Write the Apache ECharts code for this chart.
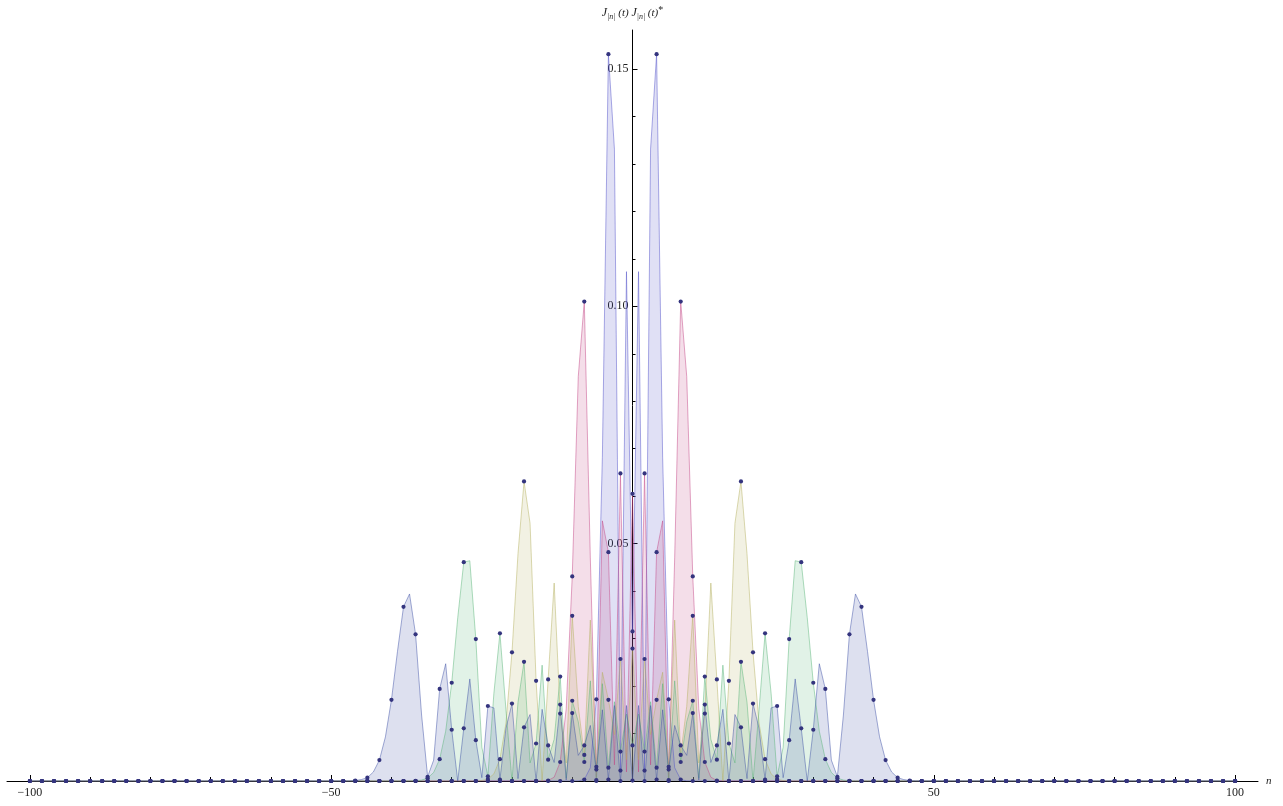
<!DOCTYPE html>
<html>
<head>
<meta charset="utf-8">
<script src="https://cdn.jsdelivr.net/npm/echarts@6/dist/echarts.min.js"></script>
<style>
html,body{margin:0;padding:0;background:#fff;}
#chart{width:1283px;height:806px;}
</style>
</head>
<body>
<div id="chart"></div>
<script>
// J_|n|(t)^2 values for |n| = 0,1,2,...; symmetric in n
const t5  = [0.0315, 0.1073, 0.0022, 0.1331, 0.1531, 0.0682, 0.0172, 0.0028, 0.0003, 0.00003, 0];
const t10 = [0.0605, 0.0019, 0.0648, 0.0034, 0.0482, 0.0548, 0.0002, 0.0470, 0.1010, 0.0852,
             0.0431, 0.0152, 0.0040, 0.0008, 0.0001, 0];
const t20 = [0.0279, 0.0045, 0.0257, 0.0098, 0.0171, 0.0229, 0.0030, 0.0339, 0.0055, 0.0157,
             0.0348, 0.0038, 0.0142, 0.0417, 0.0214, 0.0000, 0.0211, 0.0543, 0.0631, 0.0479,
             0.0271, 0.0122, 0.0046, 0.0015, 0.0004, 0.0001, 0];
const t30 = [0.0075, 0.0141, 0.0062, 0.0167, 0.0028, 0.0205, 0.0000, 0.0211, 0.0040, 0.0125,
             0.0169, 0.0006, 0.0220, 0.0088, 0.0045, 0.0244, 0.0079, 0.0038, 0.0251, 0.0166,
             0.0000, 0.0150, 0.0311, 0.0185, 0.0010, 0.0071, 0.0299, 0.0464, 0.0461, 0.0344,
             0.0207, 0.0105, 0.0046, 0.0018, 0.0006, 0.0002, 0.00005, 0];
const t40 = [0.0001, 0.0159, 0.0000, 0.0159, 0.0003, 0.0150, 0.0024, 0.0117, 0.0075, 0.0054,
             0.0143, 0.0002, 0.0161, 0.0039, 0.0075, 0.0151, 0.0000, 0.0140, 0.0113, 0.0005,
             0.0163, 0.0111, 0.0003, 0.0154, 0.0158, 0.0007, 0.0086, 0.0215, 0.0111, 0.0000,
             0.0108, 0.0247, 0.0194, 0.0044, 0.0009, 0.0139, 0.0309, 0.0394, 0.0367, 0.0273,
             0.0171, 0.0093, 0.0044, 0.0019, 0.0007, 0.0003, 0.0001, 0];

const nFirst = -100, nLast = 100;               // sample range of n
const xMajorTicks = [-100, -50, 50, 100];        // labelled ticks
const xMinorTicks = [-90, -80, -70, -60, -40, -30, -20, -10, 10, 20, 30, 40, 60, 70, 80, 90];
const yMajorTicks = [0.05, 0.10, 0.15];
const yMinorTicks = [0.01, 0.02, 0.03, 0.04, 0.06, 0.07, 0.08, 0.09, 0.11, 0.12, 0.13, 0.14];

const seriesDefs = [
  { name: 't=5',  half: t5,  color: [80, 80, 200] },
  { name: 't=10', half: t10, color: [195, 67, 131] },
  { name: 't=20', half: t20, color: [180, 175, 95] },
  { name: 't=30', half: t30, color: [87, 179, 119] },
  { name: 't=40', half: t40, color: [60, 80, 165] }
];

function rgba(c, a) { return 'rgba(' + c[0] + ',' + c[1] + ',' + c[2] + ',' + a + ')'; }

function buildData(half) {
  const out = [];
  for (let n = nFirst; n <= nLast; n++) {
    const k = Math.abs(n);
    out.push([n, k < half.length ? half[k] : 0]);
  }
  return out;
}

const serif = '"Liberation Serif", "DejaVu Serif", serif';
const chart = echarts.init(document.getElementById('chart'), null, { renderer: 'canvas' });

const X_MIN = -103.8, X_MAX = 103.8, Y_MAX = 0.1582;
const GRID = { left: 7, right: 25, top: 30, bottom: 25 };
const plotW = 1283 - GRID.left - GRID.right;
const zeroX = GRID.left + plotW * (0 - X_MIN) / (X_MAX - X_MIN);

const series = seriesDefs.map(d => ({
  name: d.name,
  type: 'line',
  xAxisIndex: 0,
  yAxisIndex: 0,
  data: buildData(d.half),
  showSymbol: true,
  showAllSymbol: true,
  symbol: 'circle',
  symbolSize: function (val) { return (Math.abs(val[0]) % 2 === 0) ? 4.2 : 0; },
  itemStyle: { color: '#34347e', borderWidth: 0 },
  lineStyle: { color: rgba(d.color, 0.48), width: 1 },
  areaStyle: { color: rgba(d.color, 0.25) },
  silent: true,
  emphasis: { disabled: true },
  animation: false
}));

const option = {
  animation: false,
  grid: [
    { left: GRID.left, right: GRID.right, top: GRID.top, bottom: GRID.bottom, containLabel: false, outerBoundsMode: 'none' },
    { left: zeroX, width: 1, top: GRID.top, bottom: GRID.bottom, containLabel: false, outerBoundsMode: 'none' }
  ],
  xAxis: [
    {
      gridIndex: 0, type: 'value', min: X_MIN, max: X_MAX, position: 'bottom',
      name: 'n', nameLocation: 'end', nameGap: 8,
      nameTextStyle: { fontFamily: serif, fontStyle: 'italic', fontSize: 11, color: '#222' },
      axisLine: { show: true, onZero: false, lineStyle: { color: '#000', width: 1 } },
      axisTick: { show: true, inside: true, length: 6, customValues: xMajorTicks, lineStyle: { color: '#000' } },
      axisLabel: {
        show: true, customValues: xMajorTicks, margin: 6,
        fontFamily: serif, fontSize: 12, color: '#222',
        formatter: v => (v < 0 ? '\u2212' + Math.abs(v) : String(v))
      },
      splitLine: { show: false }
    },
    {
      gridIndex: 0, type: 'value', min: X_MIN, max: X_MAX, position: 'bottom',
      axisLine: { show: false, onZero: false },
      axisTick: { show: true, inside: true, length: 4, customValues: xMinorTicks, lineStyle: { color: '#000' } },
      axisLabel: { show: false },
      splitLine: { show: false }
    },
    {
      gridIndex: 1, type: 'value', min: 0, max: 1, show: false
    }
  ],
  yAxis: [
    {
      gridIndex: 0, type: 'value', min: 0, max: Y_MAX, position: 'left',
      name: '{j|J}{s||n|}{p| (t) }{j|J}{s||n|}{p| (t)}{a|*}',
      nameLocation: 'end', nameGap: 9,
      nameTextStyle: {
        fontFamily: serif, fontSize: 12, color: '#222',
        rich: {
          j: { fontFamily: serif, fontStyle: 'italic', fontSize: 12, lineHeight: 16, verticalAlign: 'middle', color: '#222' },
          s: { fontFamily: serif, fontStyle: 'italic', fontSize: 8, lineHeight: 16, verticalAlign: 'bottom', color: '#222' },
          p: { fontFamily: serif, fontStyle: 'italic', fontSize: 11, lineHeight: 16, verticalAlign: 'middle', color: '#222' },
          a: { fontFamily: serif, fontSize: 10, lineHeight: 16, verticalAlign: 'top', color: '#222' }
        }
      },
      axisLine: { show: true, onZero: true, onZeroAxisIndex: 0, lineStyle: { color: '#000', width: 1 } },
      axisTick: { show: true, inside: true, length: 5, customValues: yMajorTicks, lineStyle: { color: '#000' } },
      axisLabel: { show: false },
      splitLine: { show: false }
    },
    {
      gridIndex: 0, type: 'value', min: 0, max: Y_MAX, position: 'left',
      axisLine: { show: false, onZero: true, onZeroAxisIndex: 0 },
      axisTick: { show: true, inside: true, length: 3, customValues: yMinorTicks, lineStyle: { color: '#000' } },
      axisLabel: { show: false },
      splitLine: { show: false }
    },
    {
      gridIndex: 1, type: 'value', min: 0, max: Y_MAX, position: 'left',
      axisLine: { show: false, onZero: false },
      axisTick: { show: false },
      axisLabel: {
        show: true, customValues: yMajorTicks, margin: 4,
        fontFamily: serif, fontSize: 12, color: '#222',
        formatter: v => v.toFixed(2)
      },
      splitLine: { show: false }
    }
  ],
  series: series
};

chart.setOption(option);
</script>
</body>
</html>
